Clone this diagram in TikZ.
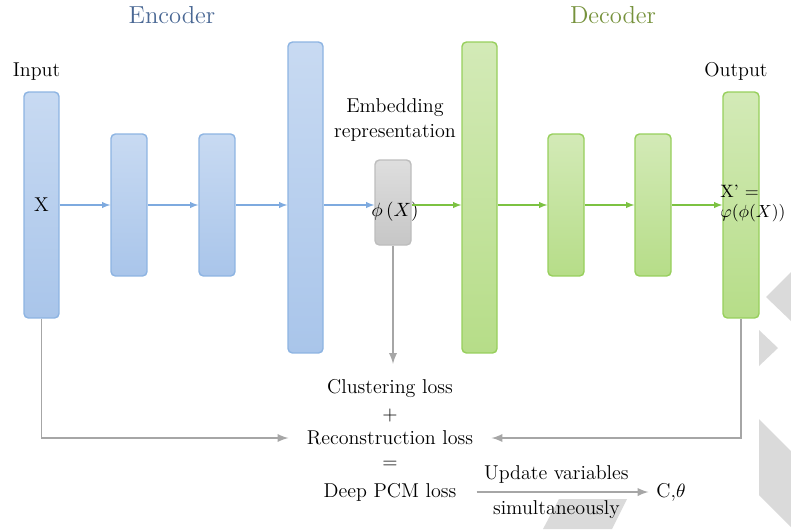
\documentclass[tikz,border=0pt]{standalone}
\usepackage{fontspec}
\usetikzlibrary{arrows}

\definecolor{enctop}{HTML}{C8DAF2}
\definecolor{encbot}{HTML}{A9C5EA}
\definecolor{encline}{HTML}{8DB4E2}
\definecolor{encarr}{HTML}{7EAADF}
\definecolor{dectop}{HTML}{D3EAB7}
\definecolor{decbot}{HTML}{B6DD88}
\definecolor{decline}{HTML}{97CF5C}
\definecolor{decarr}{HTML}{7CC242}
\definecolor{embtop}{HTML}{DEDEDE}
\definecolor{embbot}{HTML}{C6C6C6}
\definecolor{embline}{HTML}{BDBDBD}
\definecolor{lossgray}{HTML}{A6A6A6}
\definecolor{decorgray}{HTML}{DADADA}
\definecolor{enctitle}{HTML}{4A6894}
\definecolor{dectitle}{HTML}{76923C}

\begin{document}
\begin{tikzpicture}[x=0.02cm,y=-0.02cm,
  every node/.style={font=\fontsize{11.4}{14.2}\selectfont},
  enc/.style={draw=encline,line width=0.8pt,top color=enctop,bottom color=encbot,
    rounded corners=2.5pt,minimum width=0.7cm,inner sep=0pt},
  dec/.style={draw=decline,line width=0.8pt,top color=dectop,bottom color=decbot,
    rounded corners=2.5pt,minimum width=0.7cm,inner sep=0pt},
  encarrow/.style={draw=encarr,line width=0.6pt,-latex},
  decarrow/.style={draw=decarr,line width=0.6pt,-latex},
  lossarrow/.style={draw=lossgray,line width=1.1pt,-latex},
  decor/.style={fill=decorgray,draw=none}]
\useasboundingbox (0,0) rectangle (791,529);

% background shapes
\fill[decor] (791,272) -- (766,297) -- (791,321) -- cycle;
\fill[decor] (759,330) -- (778,348) -- (759,366) -- cycle;
\fill[decor] (759,419) -- (791,451) -- (791,527) -- (759,495) -- cycle;
\fill[decor] (559,499) -- (627,499) -- (612,529) -- (543,529) -- cycle;

% titles
\node[font=\fontsize{14}{16}\selectfont,text=enctitle] (enctitle) at (172,15) {Encoder};
\node[font=\fontsize{14}{16}\selectfont,text=dectitle] (dectitle) at (613,15) {Decoder};
\node (inlabel) at (36.5,72) {Input};
\node (outlabel) at (736,71) {Output};
\node[align=center] (emblabel) at (395,120) {Embedding\\representation};

% encoder
\node[enc,minimum height=4.52cm] (in) at (41.5,205) {X};
\node[enc,minimum height=2.84cm,minimum width=0.72cm] (enc1) at (129,205) {};
\node[enc,minimum height=2.84cm,minimum width=0.72cm] (enc2) at (217,205) {};
\node[enc,minimum height=6.22cm] (enc3) at (305.5,197.5) {};

% embedding
\node[draw=embline,line width=0.8pt,top color=embtop,bottom color=embbot,rounded corners=2.5pt,
  minimum width=0.72cm,minimum height=1.7cm,inner sep=0pt] (emb) at (393,202.5) {};
\node (phix) at (395,212) {$\phi\,(X)$};

% decoder
\node[dec,minimum height=6.22cm] (dec1) at (479.5,197.5) {};
\node[dec,minimum height=2.84cm,minimum width=0.72cm] (dec2) at (566,205) {};
\node[dec,minimum height=2.84cm,minimum width=0.72cm] (dec3) at (653,205) {};
\node[dec,minimum height=4.52cm,minimum width=0.72cm] (out) at (741,205) {};
\node[align=left,anchor=west,inner sep=0pt,font=\fontsize{10.2}{11.4}\selectfont] (xrec) at (720,203)
  {X' =\\$\varphi(\phi(X))$};

\draw[encarrow] (in) -- (enc1);
\draw[encarrow] (enc1) -- (enc2);
\draw[encarrow] (enc2.east) -- (enc2.east -| enc3.west);
\draw[encarrow] (enc2.east -| enc3.east) -- (enc2.east -| emb.west);
\draw[decarrow] (enc2.east -| emb.east) -- (enc2.east -| dec1.west);
\draw[decarrow] (dec2.west -| dec1.east) -- (dec2.west);
\draw[decarrow] (dec2) -- (dec3);
\draw[decarrow] (dec3) -- (out);

% losses
\node (clus) at (390,388) {Clustering loss};
\node (plus) at (390,415) {+};
\node (recon) at (390,438) {Reconstruction loss};
\node (eq) at (390,465) {=};
\node (deep) at (390,492) {Deep PCM loss};
\node (ctheta) at (671,492) {C,$\theta$};

\draw[lossarrow,shorten >=5pt] (emb.south) -- (emb.south |- clus.north);
\draw[lossarrow,shorten >=7pt] (in.south) |- (recon.west);
\draw[lossarrow,shorten >=7pt] (out.south) |- (recon.east);
\draw[lossarrow,shorten <=8pt,shorten >=1pt] (deep) -- (ctheta)
  node[midway,above=1pt] (update) {Update variables}
  node[midway,below=1pt] (simul) {simultaneously};
\end{tikzpicture}
\end{document}
